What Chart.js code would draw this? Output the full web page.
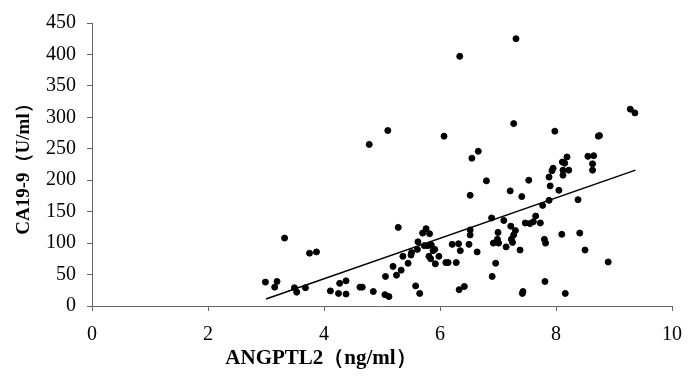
<!DOCTYPE html>
<html>
<head>
<meta charset="utf-8">
<script src="https://cdn.jsdelivr.net/npm/chart.js@4"></script>
<style>
  html, body { margin: 0; padding: 0; background: #fff; }
  #wrap { width: 700px; height: 377px; }
</style>
</head>
<body>
<div id="wrap"><canvas id="chart" width="700" height="377"></canvas></div>
<script>
// ANGPTL2 (ng/ml) vs CA19-9 (U/ml)
const angptl2 = [
    2.99, 3.15, 3.19, 3.32, 3.49, 3.53, 3.68, 3.75, 3.87, 4.11,
    4.25, 4.27, 4.38, 4.38, 4.62, 4.66, 4.78, 4.85, 5.05, 5.06,
    5.12, 5.10, 5.19, 5.25, 5.28, 5.33, 5.36, 5.45, 5.50, 5.51,
    5.58, 5.61, 5.62, 5.65, 5.70, 5.73, 5.76, 5.79, 5.82, 5.81,
    5.84, 5.85, 5.88, 5.92, 5.91, 5.98, 6.07, 6.10, 6.14, 6.21,
    6.28, 6.32, 6.33, 6.34, 6.35, 6.42, 6.50, 6.52, 6.52, 6.52,
    6.55, 6.64, 6.66, 6.80, 6.90, 6.89, 6.92, 6.96, 7.00, 6.99,
    7.01, 7.10, 7.14, 7.21, 7.22, 7.23, 7.25, 7.27, 7.27, 7.30,
    7.31, 7.38, 7.41, 7.43, 7.42, 7.47, 7.53, 7.55, 7.61, 7.65,
    7.73, 7.77, 7.80, 7.81, 7.82, 7.88, 7.88, 7.90, 7.93, 7.95,
    7.98, 8.05, 8.10, 8.11, 8.12, 8.12, 8.15, 8.16, 8.19, 8.22,
    8.38, 8.41, 8.50, 8.55, 8.63, 8.63, 8.65, 8.73, 8.75, 8.90,
    9.28, 9.36
];
const ca199 = [
    38, 30, 39, 108, 29, 22, 29, 84, 86, 24,
    20, 36, 40, 19, 30, 30, 257, 23, 18, 47,
    15, 279, 63, 49, 125, 57, 79, 68, 81, 85,
    32, 90, 102, 20, 116, 96, 123, 96, 115, 79,
    75, 97, 88, 67, 90, 79, 270, 69, 69, 98,
    69, 99, 26, 397, 88, 31, 98, 113, 176, 121,
    235, 86, 246, 199, 47, 140, 100, 68, 117, 106,
    100, 136, 94, 183, 127, 106, 101, 290, 113, 120,
    425, 89, 174, 23, 20, 132, 200, 131, 134, 143,
    132, 160, 106, 39, 100, 168, 205, 191, 215, 219,
    278, 184, 114, 229, 216, 208, 227, 20, 237, 216,
    169, 116, 89, 238, 226, 216, 239, 270, 271, 70,
    313, 307
];

// linear fit line ends
const fitX = [3.0, 9.37];
const fitY = [11, 216];

const xTicks = [0, 2, 4, 6, 8, 10];
const yTicks = [0, 50, 100, 150, 200, 250, 300, 350, 400, 450];

const points = angptl2.map((x, i) => ({ x: x, y: ca199[i] }));
const fitLine = fitX.map((x, i) => ({ x: x, y: fitY[i] }));

const serif = '"Liberation Serif", "Times New Roman", serif';
const axisColor = '#666';

// x title sits left of centre in the reference, so draw it by hand
const xTitlePlugin = {
    id: 'xTitle',
    afterDraw(chart) {
        const ctx = chart.ctx;
        ctx.save();
        ctx.font = 'bold 21px ' + serif;
        ctx.fillStyle = '#000';
        ctx.textAlign = 'center';
        ctx.textBaseline = 'middle';
        ctx.fillText('ANGPTL2（ng/ml）', 321, 359);
        ctx.restore();
    }
};

new Chart(document.getElementById('chart'), {
    type: 'scatter',
    data: {
        datasets: [
            {
                label: 'CA19-9',
                data: points,
                backgroundColor: '#000',
                borderColor: '#000',
                pointRadius: 3,
                pointHoverRadius: 3
            },
            {
                type: 'line',
                label: 'fit',
                data: fitLine,
                borderColor: '#000',
                borderWidth: 1.5,
                pointRadius: 0,
                fill: false,
                tension: 0
            }
        ]
    },
    options: {
        responsive: false,
        animation: false,
        layout: { padding: { top: 16, right: 28, left: 0, bottom: 0 } },
        plugins: {
            legend: { display: false },
            tooltip: { enabled: false }
        },
        scales: {
            x: {
                type: 'linear',
                min: 0,
                max: 10,
                afterBuildTicks: (scale) => { scale.ticks = xTicks.map(v => ({ value: v })); },
                afterFit: (scale) => { scale.height = 71; },
                border: { color: axisColor, width: 1 },
                grid: { drawOnChartArea: false, drawTicks: true, tickLength: 5, color: axisColor },
                ticks: { color: '#000', font: { family: serif, size: 20 }, padding: 12 }
            },
            y: {
                type: 'linear',
                min: 0,
                max: 450,
                afterBuildTicks: (scale) => { scale.ticks = yTicks.map(v => ({ value: v })); },
                afterFit: (scale) => { scale.width = 92; },
                border: { color: axisColor, width: 1 },
                grid: { drawOnChartArea: false, drawTicks: true, tickLength: 5, color: axisColor },
                ticks: { color: '#000', font: { family: serif, size: 20 }, padding: 11 },
                title: {
                    display: true,
                    text: 'CA19-9（U/ml）',
                    color: '#000',
                    font: { family: serif, size: 19, weight: 'bold' },
                    padding: { top: 13, bottom: 0 }
                }
            }
        }
    },
    plugins: [xTitlePlugin]
});
</script>
</body>
</html>
